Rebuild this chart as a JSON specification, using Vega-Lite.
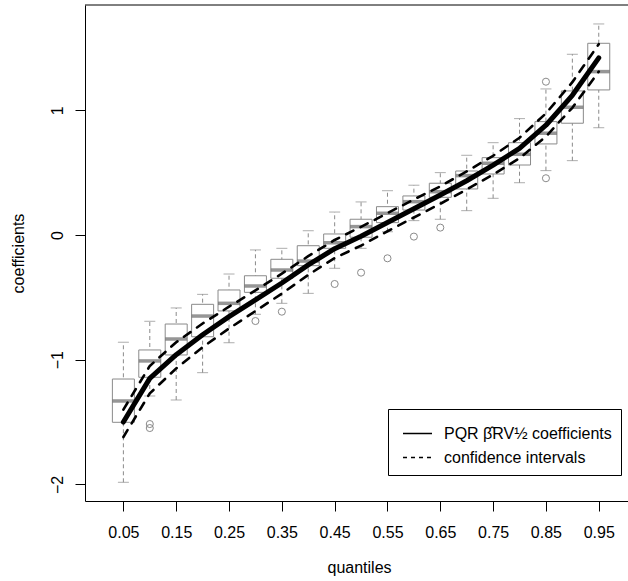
{
  "$schema": "https://vega.github.io/schema/vega-lite/v6.json",
  "width": 543,
  "height": 496,
  "autosize": {"type": "none"},
  "padding": {"left": 85, "top": 5, "right": 0, "bottom": 80},
  "datasets": {
    "boxes": [
      {"q": 0.05, "lo": -1.983, "q1": -1.502, "med": -1.331, "q3": -1.155, "hi": -0.860},
      {"q": 0.10, "lo": -1.291, "q1": -1.141, "med": -1.010, "q3": -0.922, "hi": -0.692},
      {"q": 0.15, "lo": -1.323, "q1": -0.962, "med": -0.834, "q3": -0.714, "hi": -0.585},
      {"q": 0.20, "lo": -1.104, "q1": -0.816, "med": -0.650, "q3": -0.556, "hi": -0.476},
      {"q": 0.25, "lo": -0.864, "q1": -0.609, "med": -0.548, "q3": -0.441, "hi": -0.313},
      {"q": 0.30, "lo": -0.636, "q1": -0.460, "med": -0.409, "q3": -0.327, "hi": -0.120},
      {"q": 0.35, "lo": -0.548, "q1": -0.347, "med": -0.281, "q3": -0.195, "hi": -0.107},
      {"q": 0.40, "lo": -0.468, "q1": -0.246, "med": -0.209, "q3": -0.086, "hi": 0.034},
      {"q": 0.45, "lo": -0.267, "q1": -0.107, "med": -0.062, "q3": 0.008, "hi": 0.184},
      {"q": 0.50, "lo": -0.107, "q1": -0.018, "med": 0.067, "q3": 0.126, "hi": 0.265},
      {"q": 0.55, "lo": 0.026, "q1": 0.099, "med": 0.174, "q3": 0.227, "hi": 0.355},
      {"q": 0.60, "lo": 0.115, "q1": 0.200, "med": 0.267, "q3": 0.313, "hi": 0.399},
      {"q": 0.65, "lo": 0.126, "q1": 0.302, "med": 0.347, "q3": 0.415, "hi": 0.500},
      {"q": 0.70, "lo": 0.195, "q1": 0.369, "med": 0.476, "q3": 0.513, "hi": 0.639},
      {"q": 0.75, "lo": 0.294, "q1": 0.489, "med": 0.575, "q3": 0.620, "hi": 0.740},
      {"q": 0.80, "lo": 0.419, "q1": 0.561, "med": 0.647, "q3": 0.740, "hi": 0.933},
      {"q": 0.85, "lo": 0.516, "q1": 0.730, "med": 0.816, "q3": 0.909, "hi": 1.171},
      {"q": 0.90, "lo": 0.596, "q1": 0.896, "med": 1.024, "q3": 1.155, "hi": 1.449},
      {"q": 0.95, "lo": 0.860, "q1": 1.163, "med": 1.310, "q3": 1.537, "hi": 1.692}
    ],
    "outliers": [
      {"q": 0.10, "v": -1.516},
      {"q": 0.10, "v": -1.548},
      {"q": 0.30, "v": -0.690},
      {"q": 0.35, "v": -0.615},
      {"q": 0.45, "v": -0.393},
      {"q": 0.50, "v": -0.302},
      {"q": 0.55, "v": -0.187},
      {"q": 0.60, "v": -0.013},
      {"q": 0.65, "v": 0.059},
      {"q": 0.85, "v": 1.229},
      {"q": 0.85, "v": 0.455}
    ],
    "lines": [
      {"q": 0.05, "b": "coef", "s": "coef", "v": -1.50},
      {"q": 0.10, "b": "coef", "s": "coef", "v": -1.15},
      {"q": 0.15, "b": "coef", "s": "coef", "v": -0.96},
      {"q": 0.20, "b": "coef", "s": "coef", "v": -0.80},
      {"q": 0.25, "b": "coef", "s": "coef", "v": -0.655},
      {"q": 0.30, "b": "coef", "s": "coef", "v": -0.52},
      {"q": 0.35, "b": "coef", "s": "coef", "v": -0.385},
      {"q": 0.40, "b": "coef", "s": "coef", "v": -0.24},
      {"q": 0.45, "b": "coef", "s": "coef", "v": -0.11},
      {"q": 0.50, "b": "coef", "s": "coef", "v": -0.01},
      {"q": 0.55, "b": "coef", "s": "coef", "v": 0.10},
      {"q": 0.60, "b": "coef", "s": "coef", "v": 0.21},
      {"q": 0.65, "b": "coef", "s": "coef", "v": 0.32},
      {"q": 0.70, "b": "coef", "s": "coef", "v": 0.435},
      {"q": 0.75, "b": "coef", "s": "coef", "v": 0.56},
      {"q": 0.80, "b": "coef", "s": "coef", "v": 0.695},
      {"q": 0.85, "b": "coef", "s": "coef", "v": 0.88},
      {"q": 0.90, "b": "coef", "s": "coef", "v": 1.12},
      {"q": 0.95, "b": "coef", "s": "coef", "v": 1.42},
      {"q": 0.05, "b": "lower", "s": "ci", "v": -1.62},
      {"q": 0.10, "b": "lower", "s": "ci", "v": -1.27},
      {"q": 0.15, "b": "lower", "s": "ci", "v": -1.07},
      {"q": 0.20, "b": "lower", "s": "ci", "v": -0.90},
      {"q": 0.25, "b": "lower", "s": "ci", "v": -0.75},
      {"q": 0.30, "b": "lower", "s": "ci", "v": -0.61},
      {"q": 0.35, "b": "lower", "s": "ci", "v": -0.47},
      {"q": 0.40, "b": "lower", "s": "ci", "v": -0.32},
      {"q": 0.45, "b": "lower", "s": "ci", "v": -0.185},
      {"q": 0.50, "b": "lower", "s": "ci", "v": -0.085},
      {"q": 0.55, "b": "lower", "s": "ci", "v": 0.03},
      {"q": 0.60, "b": "lower", "s": "ci", "v": 0.14},
      {"q": 0.65, "b": "lower", "s": "ci", "v": 0.25},
      {"q": 0.70, "b": "lower", "s": "ci", "v": 0.365},
      {"q": 0.75, "b": "lower", "s": "ci", "v": 0.485},
      {"q": 0.80, "b": "lower", "s": "ci", "v": 0.615},
      {"q": 0.85, "b": "lower", "s": "ci", "v": 0.79},
      {"q": 0.90, "b": "lower", "s": "ci", "v": 1.02},
      {"q": 0.95, "b": "lower", "s": "ci", "v": 1.31},
      {"q": 0.05, "b": "upper", "s": "ci", "v": -1.40},
      {"q": 0.10, "b": "upper", "s": "ci", "v": -1.05},
      {"q": 0.15, "b": "upper", "s": "ci", "v": -0.86},
      {"q": 0.20, "b": "upper", "s": "ci", "v": -0.71},
      {"q": 0.25, "b": "upper", "s": "ci", "v": -0.575},
      {"q": 0.30, "b": "upper", "s": "ci", "v": -0.445},
      {"q": 0.35, "b": "upper", "s": "ci", "v": -0.31},
      {"q": 0.40, "b": "upper", "s": "ci", "v": -0.17},
      {"q": 0.45, "b": "upper", "s": "ci", "v": -0.04},
      {"q": 0.50, "b": "upper", "s": "ci", "v": 0.065},
      {"q": 0.55, "b": "upper", "s": "ci", "v": 0.175},
      {"q": 0.60, "b": "upper", "s": "ci", "v": 0.285},
      {"q": 0.65, "b": "upper", "s": "ci", "v": 0.39},
      {"q": 0.70, "b": "upper", "s": "ci", "v": 0.51},
      {"q": 0.75, "b": "upper", "s": "ci", "v": 0.635},
      {"q": 0.80, "b": "upper", "s": "ci", "v": 0.78},
      {"q": 0.85, "b": "upper", "s": "ci", "v": 0.975},
      {"q": 0.90, "b": "upper", "s": "ci", "v": 1.225},
      {"q": 0.95, "b": "upper", "s": "ci", "v": 1.53}
    ]
  },
  "layer": [
    {
      "data": {"name": "boxes"},
      "mark": {"type": "rule", "color": "#8a8a8a", "strokeWidth": 1, "strokeDash": [4, 3]},
      "encoding": {
        "x": {
          "field": "q", "type": "quantitative",
          "scale": {"domain": [-0.0132, 0.9959], "nice": false, "zero": false},
          "axis": {
            "values": [0.05, 0.1, 0.15, 0.2, 0.25, 0.3, 0.35, 0.4, 0.45, 0.5, 0.55, 0.6, 0.65, 0.7, 0.75, 0.8, 0.85, 0.9, 0.95],
            "labelExpr": "round(datum.value*100) % 10 == 5 ? format(datum.value, '.2f') : ''",
            "labelOverlap": false,
            "labelFlush": false,
            "labelBaseline": "alphabetic",
            "labelPadding": 26,
            "title": "quantiles",
            "titleX": 274,
            "titleY": 71,
            "titleAlign": "center",
            "titleBaseline": "alphabetic"
          }
        },
        "y": {
          "field": "lo", "type": "quantitative",
          "scale": {"domain": [-2.133, 1.844], "nice": false, "zero": false},
          "axis": {
            "values": [-2, -1, 0, 1],
            "labelExpr": "format(datum.value, 'd')",
            "labelAngle": -90,
            "labelAlign": "center",
            "labelBaseline": "alphabetic",
            "labelPadding": 13,
            "title": "coefficients",
            "titleAngle": -90,
            "titleX": -62,
            "titleY": 248,
            "titleAlign": "center",
            "titleBaseline": "alphabetic"
          }
        },
        "y2": {"field": "hi"}
      }
    },
    {
      "data": {"name": "boxes"},
      "mark": {"type": "tick", "orient": "horizontal", "size": 11, "thickness": 1, "color": "#8a8a8a"},
      "encoding": {
        "x": {"field": "q", "type": "quantitative"},
        "y": {"field": "lo", "type": "quantitative"}
      }
    },
    {
      "data": {"name": "boxes"},
      "mark": {"type": "tick", "orient": "horizontal", "size": 11, "thickness": 1, "color": "#8a8a8a"},
      "encoding": {
        "x": {"field": "q", "type": "quantitative"},
        "y": {"field": "hi", "type": "quantitative"}
      }
    },
    {
      "data": {"name": "boxes"},
      "mark": {"type": "bar", "width": 22, "fill": "white", "stroke": "#8a8a8a", "strokeWidth": 1},
      "encoding": {
        "x": {"field": "q", "type": "quantitative"},
        "y": {"field": "q1", "type": "quantitative"},
        "y2": {"field": "q3"}
      }
    },
    {
      "data": {"name": "boxes"},
      "mark": {"type": "tick", "orient": "horizontal", "size": 22, "thickness": 3.5, "color": "#6a6a6a"},
      "encoding": {
        "x": {"field": "q", "type": "quantitative"},
        "y": {"field": "med", "type": "quantitative"}
      }
    },
    {
      "data": {"name": "outliers"},
      "mark": {"type": "point", "shape": "circle", "filled": false, "size": 50, "stroke": "#8a8a8a", "strokeWidth": 1, "opacity": 1},
      "encoding": {
        "x": {"field": "q", "type": "quantitative"},
        "y": {"field": "v", "type": "quantitative"}
      }
    },
    {
      "data": {"name": "lines"},
      "transform": [{"filter": "datum.s == 'ci'"}],
      "mark": {"type": "line", "color": "black", "strokeWidth": 2.6, "strokeDash": [8, 8], "strokeCap": "round", "strokeJoin": "round"},
      "encoding": {
        "x": {"field": "q", "type": "quantitative"},
        "y": {"field": "v", "type": "quantitative"},
        "detail": {"field": "b"}
      }
    },
    {
      "data": {"name": "lines"},
      "transform": [{"filter": "datum.s == 'coef'"}],
      "mark": {"type": "line", "color": "black", "strokeWidth": 5, "strokeCap": "round", "strokeJoin": "round"},
      "encoding": {
        "x": {"field": "q", "type": "quantitative"},
        "y": {"field": "v", "type": "quantitative"}
      }
    },
    {
      "data": {"name": "lines"},
      "transform": [{"filter": "false"}],
      "mark": {"type": "line", "color": "black", "strokeWidth": 1.5},
      "encoding": {
        "x": {"field": "q", "type": "quantitative"},
        "y": {"field": "v", "type": "quantitative"},
        "strokeDash": {
          "field": "s", "type": "nominal",
          "scale": {"domain": ["coef", "ci"], "range": [[1, 0], [4, 4]]},
          "legend": {
            "orient": "none",
            "legendX": 303,
            "legendY": 404,
            "title": null,
            "labelExpr": "datum.value == 'coef' ? 'PQR β̂RV½ coefficients' : 'confidence intervals'",
            "symbolType": "stroke",
            "symbolSize": 841,
            "symbolStrokeWidth": 1.5,
            "symbolStrokeColor": "#000",
            "symbolOffset": 5,
            "labelOffset": 11,
            "rowPadding": -4,
            "padding": 9,
            "strokeColor": "#000",
            "labelFontSize": 16,
            "labelColor": "#000",
            "labelLimit": 400
          }
        }
      }
    },
    {
      "data": {"name": "boxes"},
      "transform": [{"filter": "datum.q == 0.05"}],
      "mark": {"type": "rule", "color": "#000", "strokeWidth": 1},
      "encoding": {
        "y": {"datum": 1.844, "type": "quantitative"}
      }
    }
  ],
  "config": {
    "view": {"stroke": null},
    "font": "Liberation Sans",
    "axis": {
      "grid": false,
      "domainColor": "#000",
      "tickColor": "#000",
      "labelColor": "#000",
      "titleColor": "#000",
      "labelFontSize": 16,
      "titleFontSize": 16,
      "titleFontWeight": "normal",
      "tickSize": 10,
      "domainWidth": 1,
      "tickWidth": 1,
      "labelFont": "Liberation Sans",
      "titleFont": "Liberation Sans"
    },
    "legend": {"labelFont": "Liberation Sans"}
  }
}
